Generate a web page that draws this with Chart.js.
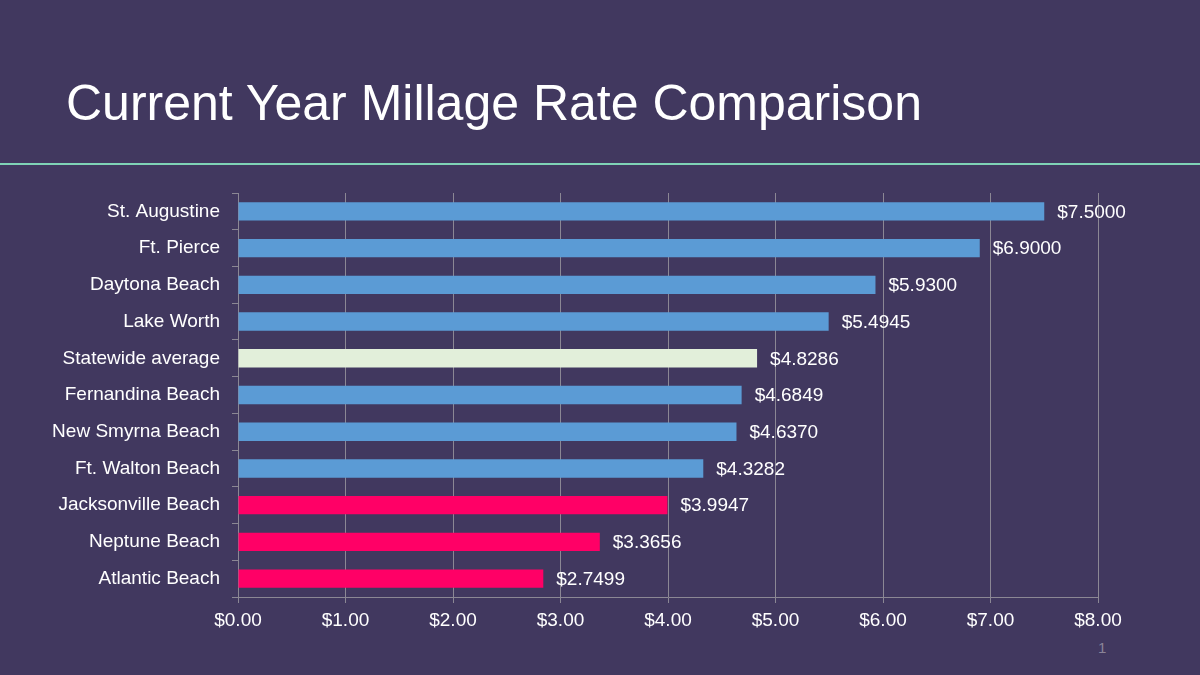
<!DOCTYPE html>
<html lang="en">
<head>
    <meta charset="UTF-8">
    <title>Current Year Millage Rate Comparison</title>
    <script src="https://cdn.jsdelivr.net/npm/chart.js"></script>
    <style>
        html, body {
            margin: 0;
            padding: 0;
            width: 1200px;
            height: 675px;
            overflow: hidden;
            background: #41385f;
            font-family: "Liberation Sans", Arial, sans-serif;
        }
        h1 {
            position: absolute;
            left: 66px;
            top: 73px;
            margin: 0;
            font-weight: normal;
            font-size: 50px;
            line-height: 60px;
            color: #ffffff;
        }
        .rule {
            position: absolute;
            left: 0;
            top: 163px;
            width: 1200px;
            height: 2px;
            background: #7fd3b6;
        }
        .page-num {
            position: absolute;
            left: 1098px;
            top: 639px;
            font-size: 15px;
            color: #8a8498;
        }
        #wrap {
            position: absolute;
            left: 0;
            top: 0;
            width: 1200px;
            height: 675px;
        }
    </style>
</head>
<body>
    <h1>Current Year Millage Rate Comparison</h1>
    <div class="rule"></div>
    <div class="page-num">1</div>
    <div id="wrap"><canvas id="rateChart" width="1200" height="675"></canvas></div>

    <script>
        const cities = [
            'St. Augustine', 'Ft. Pierce', 'Daytona Beach', 'Lake Worth',
            'Statewide average', 'Fernandina Beach', 'New Smyrna Beach',
            'Ft. Walton Beach', 'Jacksonville Beach', 'Neptune Beach', 'Atlantic Beach'
        ];
        // bar lengths as drawn in the picture (Atlantic Beach bar is drawn longer than its label)
        const rates = [7.5, 6.9, 5.93, 5.4945, 4.8286, 4.6849, 4.637, 4.3282, 3.9947, 3.3656, 2.84];
        const rateLabels = ['$7.5000', '$6.9000', '$5.9300', '$5.4945', '$4.8286', '$4.6849',
            '$4.6370', '$4.3282', '$3.9947', '$3.3656', '$2.7499'];
        const barColors = ['#5b9bd5', '#5b9bd5', '#5b9bd5', '#5b9bd5', '#e2efda', '#5b9bd5',
            '#5b9bd5', '#5b9bd5', '#ff0066', '#ff0066', '#ff0066'];

        const gridGray = '#8b8794';
        const font = { family: '"Liberation Sans", Arial, sans-serif', size: 19 };

        // draws the value text at the end of each bar
        const valueLabels = {
            id: 'valueLabels',
            afterDatasetsDraw(chart) {
                const ctx = chart.ctx;
                const meta = chart.getDatasetMeta(0);
                ctx.save();
                ctx.font = '19px "Liberation Sans", Arial, sans-serif';
                ctx.fillStyle = '#ffffff';
                ctx.textBaseline = 'middle';
                ctx.textAlign = 'left';
                meta.data.forEach((bar, i) => {
                    ctx.fillText(rateLabels[i], bar.x + 13, bar.y + 1);
                });
                ctx.restore();
            }
        };

        new Chart(document.getElementById('rateChart'), {
            type: 'bar',
            data: {
                labels: cities,
                datasets: [{
                    data: rates,
                    backgroundColor: barColors,
                    borderWidth: 0,
                    barPercentage: 0.5,
                    categoryPercentage: 1.0
                }]
            },
            options: {
                indexAxis: 'y',
                responsive: false,
                animation: false,
                devicePixelRatio: 1,
                layout: {
                    padding: { top: 193, left: 0, right: 102, bottom: 38 }
                },
                plugins: {
                    legend: { display: false },
                    tooltip: { enabled: false }
                },
                scales: {
                    x: {
                        min: 0,
                        max: 8,
                        ticks: {
                            stepSize: 1,
                            color: '#ffffff',
                            font: font,
                            padding: 6,
                            callback: v => '$' + Number(v).toFixed(2)
                        },
                        grid: {
                            color: gridGray,
                            tickLength: 6,
                            lineWidth: 1
                        },
                        border: { color: gridGray },
                        afterFit(scale) { scale.height = 40; }
                    },
                    y: {
                        ticks: {
                            color: '#ffffff',
                            font: font,
                            padding: 12
                        },
                        grid: {
                            drawOnChartArea: false,
                            color: gridGray,
                            tickLength: 6,
                            offset: true
                        },
                        border: { color: gridGray },
                        afterFit(scale) { scale.width = 238; }
                    }
                }
            },
            plugins: [valueLabels]
        });
    </script>
</body>
</html>
